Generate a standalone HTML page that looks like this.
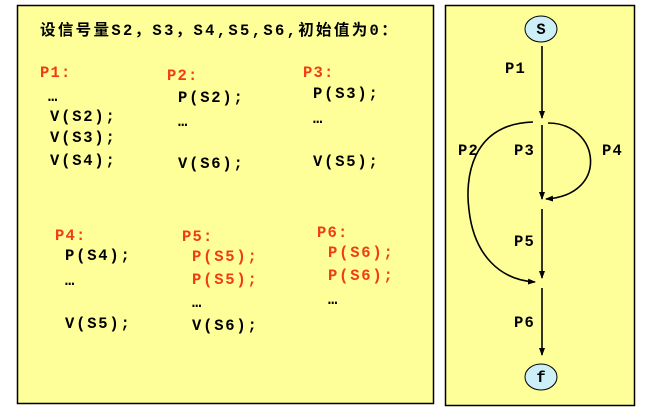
<!DOCTYPE html>
<html><head><meta charset="utf-8"><style>
html,body{margin:0;padding:0;background:#fff}
svg text{font-family:"Liberation Mono","Courier New","DejaVu Sans Mono","Noto Sans CJK SC",monospace;font-weight:bold;font-size:15.5px;letter-spacing:1.2px}
svg text.cn{font-family:"Liberation Mono","Courier New","Noto Sans CJK SC",monospace;letter-spacing:0.3px}
.r{fill:#f03c14}
</style></head><body>
<svg width="651" height="411" viewBox="0 0 651 411" xmlns="http://www.w3.org/2000/svg">
<defs><marker id="a" markerWidth="8" markerHeight="8" refX="7" refY="4" orient="auto" markerUnits="userSpaceOnUse"><path d="M0,1 L8,4 L0,7 Z" fill="#000"/></marker></defs>
<rect x="17.5" y="5.5" width="416" height="398" fill="#ffff99" stroke="#000" stroke-width="1.5"/>
<rect x="445.5" y="5.5" width="189" height="400" fill="#ffff99" stroke="#000" stroke-width="1.5"/>
<text x="40" y="35" class="cn" textLength="357" lengthAdjust="spacing">设信号量S2，S3，S4,S5,S6,初始值为0：</text>
<text x="40" y="77" class="r">P1:</text>
<text x="48" y="101">…</text>
<text x="50" y="121" textLength="66">V(S2);</text>
<text x="50" y="142" textLength="66">V(S3);</text>
<text x="50" y="165" textLength="66">V(S4);</text>
<text x="167" y="80" class="r">P2:</text>
<text x="178" y="102" textLength="66">P(S2);</text>
<text x="178" y="126">…</text>
<text x="178" y="168" textLength="66">V(S6);</text>
<text x="303" y="77" class="r">P3:</text>
<text x="313" y="98" textLength="66">P(S3);</text>
<text x="313" y="123">…</text>
<text x="313" y="166" textLength="66">V(S5);</text>
<text x="55" y="240" class="r">P4:</text>
<text x="65" y="260" textLength="66">P(S4);</text>
<text x="65" y="285">…</text>
<text x="65" y="328" textLength="66">V(S5);</text>
<text x="182" y="241" class="r">P5:</text>
<text x="192" y="261" class="r" textLength="66">P(S5);</text>
<text x="192" y="284" class="r" textLength="66">P(S5);</text>
<text x="192" y="307">…</text>
<text x="192" y="330" textLength="66">V(S6);</text>
<text x="317" y="237" class="r">P6:</text>
<text x="328" y="257" class="r" textLength="66">P(S6);</text>
<text x="328" y="280" class="r" textLength="66">P(S6);</text>
<text x="328" y="304">…</text>
<ellipse cx="541" cy="29" rx="16" ry="13" fill="#cdf0f8" stroke="#000"/>
<text x="541" y="34" text-anchor="middle" style="letter-spacing:0">S</text>
<ellipse cx="541" cy="377" rx="16" ry="13" fill="#cdf0f8" stroke="#000"/>
<text x="541" y="382" text-anchor="middle" style="letter-spacing:0">f</text>
<g stroke="#000" stroke-width="1.6" fill="none" marker-end="url(#a)">
<line x1="542" y1="46" x2="542" y2="118"/>
<line x1="542" y1="125" x2="542" y2="199"/>
<line x1="542" y1="209" x2="542" y2="278"/>
<line x1="542" y1="288" x2="542" y2="355"/>
<path d="M548,123 C600,123 610,195 546,199"/>
<path d="M533,122 C470,124 465,180 469,210 C474,255 500,280 535,282"/>
</g>
<text x="505" y="73">P1</text>
<text x="458" y="155">P2</text>
<text x="514" y="155">P3</text>
<text x="602" y="155">P4</text>
<text x="514" y="246">P5</text>
<text x="514" y="327">P6</text>
</svg>
</body></html>
